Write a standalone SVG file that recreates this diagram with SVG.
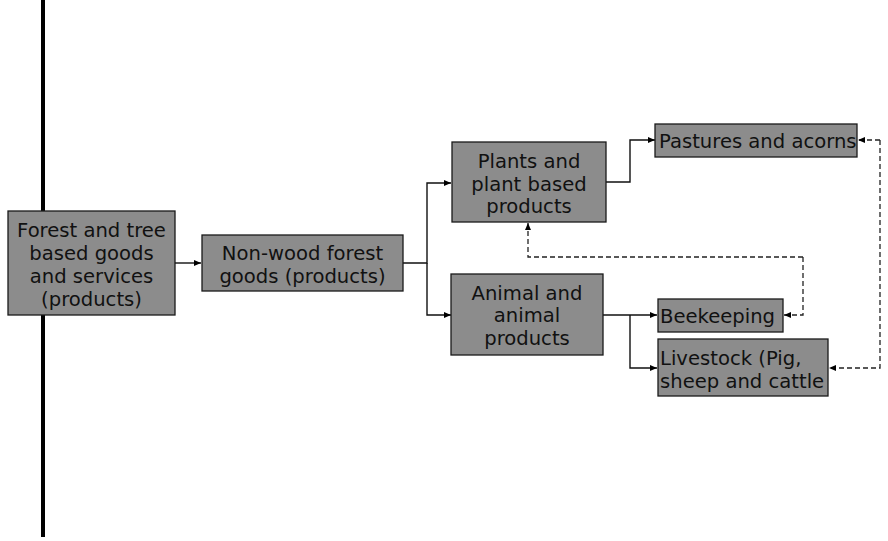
<svg xmlns="http://www.w3.org/2000/svg" width="888" height="541" viewBox="0 0 888 541">
<defs>
<marker id="ah" markerWidth="7" markerHeight="6" refX="7" refY="3" orient="auto" markerUnits="userSpaceOnUse">
<path d="M0,0 L7,3 L0,6 Z" fill="#000"/>
</marker>
<style>
.box{fill:#8c8c8c;stroke:#1a1a1a;stroke-width:1.3}
.t{font-family:"DejaVu Sans",Verdana,sans-serif;font-size:19.6px;fill:#111}
.c{text-anchor:middle}
.ln{fill:none;stroke:#111;stroke-width:1.4}
.dl{fill:none;stroke:#222;stroke-width:1.3;stroke-dasharray:5,3}
</style>
</defs>
<rect width="888" height="541" fill="#fff"/>
<line x1="43" y1="0" x2="43" y2="537" stroke="#000" stroke-width="4"/>
<g id="connectors">
<path class="ln" d="M175,263 H201" marker-end="url(#ah)"/>
<path class="ln" d="M403,263 H427 V183 H451" marker-end="url(#ah)"/>
<path class="ln" d="M427,263 V315 H451" marker-end="url(#ah)"/>
<path class="ln" d="M606,182 H630 V140 H655" marker-end="url(#ah)"/>
<path class="ln" d="M603,315 H657" marker-end="url(#ah)"/>
<path class="ln" d="M630,315 V368 H657" marker-end="url(#ah)"/>
<path class="dl" d="M880,140 H858" marker-end="url(#ah)"/>
<path class="dl" d="M880,140 V368 H829" marker-end="url(#ah)"/>
<path class="dl" d="M803,257 V315 H784" marker-end="url(#ah)"/>
<path class="dl" d="M803,257 H528 V223" marker-end="url(#ah)"/>
</g>
<g id="forest">
<rect class="box" x="8" y="211" width="167" height="104"/>
<text class="t c" x="91.5" y="237">Forest and tree</text>
<text class="t c" x="91.5" y="260">based goods</text>
<text class="t c" x="91.5" y="283">and services</text>
<text class="t c" x="91.5" y="306">(products)</text>
</g>
<g id="nonwood">
<rect class="box" x="202" y="235" width="201" height="56"/>
<text class="t c" x="302.5" y="260">Non-wood forest</text>
<text class="t c" x="302.5" y="283">goods (products)</text>
</g>
<g id="plants">
<rect class="box" x="452" y="142" width="154" height="80"/>
<text class="t c" x="529" y="168">Plants and</text>
<text class="t c" x="529" y="191">plant based</text>
<text class="t c" x="529" y="213">products</text>
</g>
<g id="animal">
<rect class="box" x="451" y="274" width="152" height="81"/>
<text class="t c" x="527" y="300">Animal and</text>
<text class="t c" x="527" y="322">animal</text>
<text class="t c" x="527" y="345">products</text>
</g>
<g id="pastures">
<rect class="box" x="655" y="124" width="202" height="33"/>
<text class="t" x="659" y="148">Pastures and acorns</text>
</g>
<g id="beekeeping">
<rect class="box" x="658" y="299" width="125" height="33"/>
<text class="t" x="660" y="323">Beekeeping</text>
</g>
<g id="livestock">
<rect class="box" x="658" y="339" width="170" height="57"/>
<text class="t" x="660" y="365">Livestock (Pig,</text>
<text class="t" x="660" y="388">sheep and cattle</text>
</g>
</svg>
